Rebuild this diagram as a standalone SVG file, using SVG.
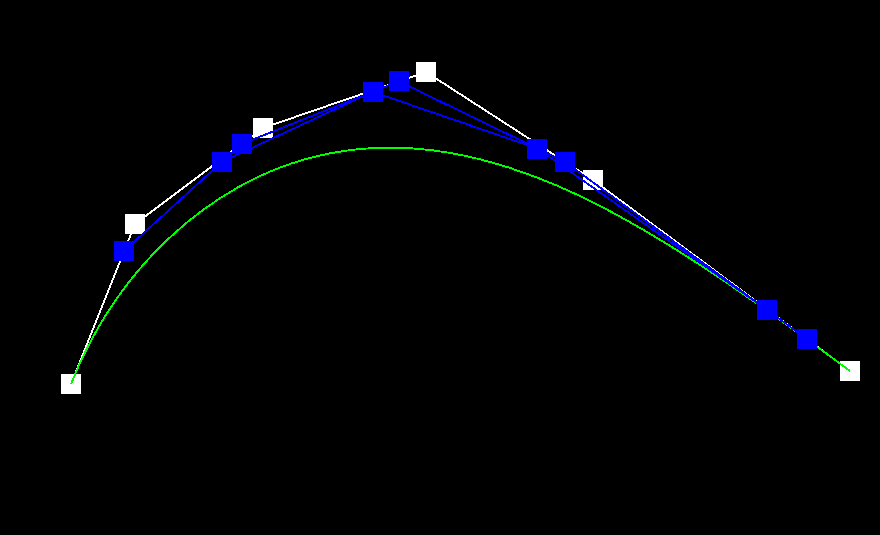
<svg xmlns="http://www.w3.org/2000/svg" width="880" height="535" viewBox="0 0 880 535">
<style>
.ctrl{fill:none;stroke:#ffffff;stroke-width:1.9;shape-rendering:crispEdges}
.lvl{fill:none;stroke:#0000ff;stroke-width:1.9;shape-rendering:crispEdges}
.curve{fill:none;stroke:#00ff00;stroke-width:1.9;shape-rendering:crispEdges}
.wp{fill:#ffffff}
.bp{fill:#0000ff}
</style>
<rect x="0" y="0" width="880" height="535" fill="#000000"/>
<g id="control-polygon">
<polyline class="ctrl" points="71,384 135,224 263,128 426,72 593,180 850,371"/>
</g>
<g id="control-points">
<rect class="wp" x="61" y="374" width="20" height="20"/>
<rect class="wp" x="125" y="214" width="20" height="20"/>
<rect class="wp" x="253" y="118" width="20" height="20"/>
<rect class="wp" x="416" y="62" width="20" height="20"/>
<rect class="wp" x="583" y="170" width="20" height="20"/>
<rect class="wp" x="840" y="361" width="20" height="20"/>
</g>
<g id="curve">
<path class="curve" d="M71,384 C97.667,317.333 137.602,263.266 186.546,222.796 C235.49,182.326 293.287,155.912 357.844,149.219 C422.401,142.526 493.563,156.014 573.731,193.122 C653.899,230.23 742.917,291.417 850,371"/>
</g>
<g id="connectors">
<polyline class="lvl" points="124.33,250.67 241.67,144 398.83,81.33 565.17,162 807.17,339.17"/>
<polyline class="lvl" points="222.11,161.78 372.64,91.78 537.44,148.56 766.83,309.64"/>
</g>
<g id="level1-points">
<rect class="bp" x="114" y="241" width="20" height="20"/>
<rect class="bp" x="232" y="134" width="20" height="20"/>
<rect class="bp" x="389" y="71" width="20" height="20"/>
<rect class="bp" x="555" y="152" width="20" height="20"/>
<rect class="bp" x="797" y="329" width="20" height="20"/>
</g>
<g id="level2-points">
<rect class="bp" x="212" y="152" width="20" height="20"/>
<rect class="bp" x="363" y="82" width="20" height="20"/>
<rect class="bp" x="527" y="139" width="20" height="20"/>
<rect class="bp" x="757" y="300" width="20" height="20"/>
</g>
</svg>
